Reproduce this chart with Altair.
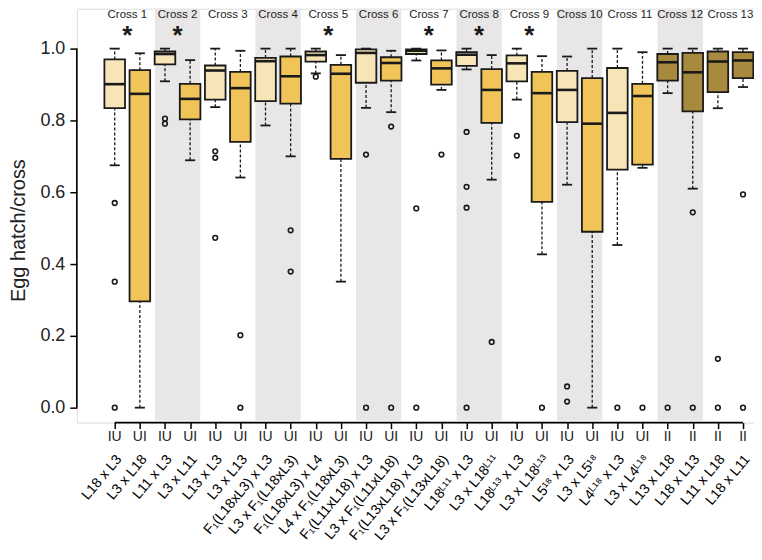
import json
import altair as alt
import pandas as pd

# ---------------- data ----------------
labels = [
    "L18 x L3", "L3 x L18", "L11 x L3", "L3 x L11", "L13 x L3", "L3 x L13",
    "F₁(L18xL3) x L3", "L3 x F₁(L18xL3)", "F₁(L18xL3) x L4", "L4 x F₁(L18xL3)",
    "F₁(L11xL18) x L3", "L3 x F₁(L11xL18)", "F₁(L13xL18) x L3", "L3 x F₁(L13xL18)",
    "L18ᴸ¹¹ x L3", "L3 x L18ᴸ¹¹", "L18ᴸ¹³ x L3", "L3 x L18ᴸ¹³",
    "L5¹⁸ x L3", "L3 x L5¹⁸", "L4ᴸ¹⁸ x L3", "L3 x L4ᴸ¹⁸",
    "L13 x L18", "L18 x L13", "L11 x L18", "L18 x L11",
]
groups = ["IU", "UI"] * 11 + ["II"] * 4

whisker_hi = [1.0, 0.987, 1.0, 0.968, 1.0, 0.994, 1.0, 1.0, 1.0, 0.982, 1.0, 0.994, 1.0,
              0.995, 1.0, 0.982, 1.0, 0.979, 0.978, 1.0, 1.0, 0.99, 1.0, 1.0, 1.0, 1.0]
q3 = [0.970, 0.940, 0.992, 0.902, 0.953, 0.935, 0.974, 0.978, 0.992, 0.955, 0.998, 0.976, 0.998,
      0.967, 0.990, 0.943, 0.981, 0.935, 0.938, 0.918, 0.946, 0.902, 0.985, 0.988, 0.992, 0.990]
median = [0.901, 0.874, 0.985, 0.860, 0.939, 0.890, 0.965, 0.923, 0.982, 0.930, 0.988, 0.960, 0.994,
          0.945, 0.983, 0.885, 0.959, 0.876, 0.885, 0.791, 0.821, 0.868, 0.962, 0.934, 0.964, 0.967]
q1 = [0.834, 0.296, 0.956, 0.803, 0.858, 0.740, 0.854, 0.847, 0.964, 0.693, 0.905, 0.911, 0.985,
      0.900, 0.952, 0.793, 0.909, 0.573, 0.795, 0.490, 0.663, 0.677, 0.911, 0.825, 0.879, 0.918]
whisker_lo = [0.675, 0.0, 0.909, 0.689, 0.837, 0.641, 0.786, 0.700, 0.931, 0.351, 0.835, 0.823, 0.967,
              0.885, 0.942, 0.635, 0.858, 0.427, 0.621, 0.0, 0.453, 0.668, 0.876, 0.610, 0.834, 0.893]
outliers = [
    [0.57, 0.351, 0.0], [], [0.805, 0.791], [], [0.714, 0.696, 0.473], [0.202, 0.0],
    [], [0.494, 0.379], [0.922], [], [0.705, 0.0], [0.783, 0.0], [0.555, 0.0],
    [0.705], [0.768, 0.615, 0.557, 0.0], [0.183], [0.757, 0.702], [0.0],
    [0.059, 0.017], [], [0.0], [0.0], [0.0], [0.544, 0.0], [0.136, 0.0], [0.594, 0.0],
]
cross_names = ["Cross 1", "Cross 2", "Cross 3", "Cross 4", "Cross 5", "Cross 6", "Cross 7",
               "Cross 8", "Cross 9", "Cross 10", "Cross 11", "Cross 12", "Cross 13"]
significant = [1, 2, 5, 7, 8, 9]
shaded = [2, 4, 6, 8, 10, 12]
y_ticks = [0.0, 0.2, 0.4, 0.6, 0.8, 1.0]

# ---------------- tables ----------------
pos = list(range(1, len(labels) + 1))
box_df = pd.DataFrame({"pos": pos, "label": labels, "group": groups, "lo": whisker_lo,
                       "q1": q1, "med": median, "q3": q3, "hi": whisker_hi})
out_df = pd.DataFrame([{"pos": p, "v": v} for p, vs in zip(pos, outliers) for v in vs])
cross_df = pd.DataFrame({"cross": list(range(1, len(cross_names) + 1)), "name": cross_names})
cross_df["star"] = ["*" if c in significant else "" for c in cross_df["cross"]]
band_df = pd.DataFrame({"cross": shaded})
xline_df = pd.DataFrame({"a": [pos[0]], "b": [pos[-1]]})
yline_df = pd.DataFrame({"a": [y_ticks[0]], "b": [y_ticks[-1]]})

# ---------------- scales / axes ----------------
W, H = 679, 415
FONT = "Liberation Sans"
xscale = alt.Scale(domain=[-0.508, 26.437], nice=False, zero=False)
yscale = alt.Scale(domain=[-0.041667, 1.111111], nice=False, zero=False)

xaxis = alt.Axis(
    values=pos,
    labelExpr=f"{json.dumps(labels, ensure_ascii=False)}[datum.value - 1]",
    labelAngle=-50, labelAlign="right", labelBaseline="middle",
    labelPadding=28, labelOffset=4, labelFontSize=14, labelFont=FONT, labelColor="black",
    labelOverlap=False, labelFlush=False, labelBound=False,
    tickSize=6, tickWidth=1.5, tickColor="black",
    domain=False, grid=False, title=None,
)
yaxis = alt.Axis(
    values=y_ticks, format=".1f", tickSize=7, tickWidth=1.5, tickColor="black",
    labelFontSize=18, labelFont=FONT, labelColor="#222222", labelPadding=5,
    domain=False, grid=False,
    title="Egg hatch/cross", titleFontSize=20, titleFont=FONT, titleFontWeight="normal",
    titleColor="#222222", titleX=-52, titleY=222, titleBaseline="alphabetic",
)


def X(f):
    return alt.X(f, type="quantitative", scale=xscale, axis=xaxis, title=None)


def Y(f):
    return alt.Y(f, type="quantitative", scale=yscale, axis=yaxis, title="Egg hatch/cross")


color = alt.Color("group:N", legend=None,
                  scale=alt.Scale(domain=["IU", "UI", "II"],
                                  range=["#F8E5B7", "#F0C458", "#A88A3E"]))
INK = "#1a1a1a"

bands = alt.Chart(band_df).transform_calculate(
    b1="2*datum.cross - 1.4", b2="2*datum.cross + 0.4"
).mark_rect(color="#E8E6E6").encode(
    x=X("b1"), x2="b2:Q", y=alt.value(0), y2=alt.value(413)
)

base = alt.Chart(box_df).transform_calculate(
    x1="datum.pos - 0.41", x2="datum.pos + 0.41",
    c1="datum.pos - 0.2", c2="datum.pos + 0.2",
)

whisk_low = base.mark_rule(color=INK, strokeWidth=1.3, strokeDash=[3, 2]).encode(
    x=X("pos"), y=Y("lo"), y2="q1:Q")
whisk_high = base.mark_rule(color=INK, strokeWidth=1.3, strokeDash=[3, 2]).encode(
    x=X("pos"), y=Y("q3"), y2="hi:Q")
cap_low = base.mark_rule(color=INK, strokeWidth=1.8).encode(x=X("c1"), x2="c2:Q", y=Y("lo"))
cap_high = base.mark_rule(color=INK, strokeWidth=1.8).encode(x=X("c1"), x2="c2:Q", y=Y("hi"))
boxes = base.mark_rect(stroke=INK, strokeWidth=1.8).encode(
    x=X("x1"), x2="x2:Q", y=Y("q1"), y2="q3:Q", color=color)
medians = base.mark_rule(color=INK, strokeWidth=2.6).encode(x=X("x1"), x2="x2:Q", y=Y("med"))

points = alt.Chart(out_df).mark_point(
    shape="circle", filled=False, size=22, strokeWidth=1.6, color=INK, opacity=1
).encode(x=X("pos"), y=Y("v"))

group_text = base.mark_text(fontSize=14, font=FONT, color="#222222", baseline="middle").encode(
    x=X("pos"), y=alt.value(429), text="group:N")

cross_base = alt.Chart(cross_df).transform_calculate(cx="2*datum.cross - 0.5")
cross_text = cross_base.mark_text(fontSize=11.5, font=FONT, color="#222222", baseline="middle").encode(
    x=X("cx"), y=alt.value(6), text="name:N")
star_text = cross_base.mark_text(fontSize=26, font=FONT, fontWeight="bold", color=INK,
                                 baseline="middle").encode(
    x=X("cx"), y=alt.value(27), text="star:N")

xline = alt.Chart(xline_df).mark_rule(color="black", strokeWidth=1.6).encode(
    x=X("a"), x2="b:Q", y=alt.value(H))
yline = alt.Chart(yline_df).mark_rule(color="black", strokeWidth=1.6).encode(
    x=alt.value(0), y=Y("a"), y2="b:Q")

chart = alt.layer(
    bands, whisk_low, whisk_high, cap_low, cap_high, boxes, medians, points,
    group_text, cross_text, star_text, xline, yline
).properties(
    width=W, height=H,
    padding={"left": 69, "top": 0, "right": 0, "bottom": 130},
    autosize=alt.AutoSizeParams(type="none"),
).configure_view(stroke=None).configure(background="white")

chart.save("out.html", embed_options={"renderer": "svg", "actions": False})
